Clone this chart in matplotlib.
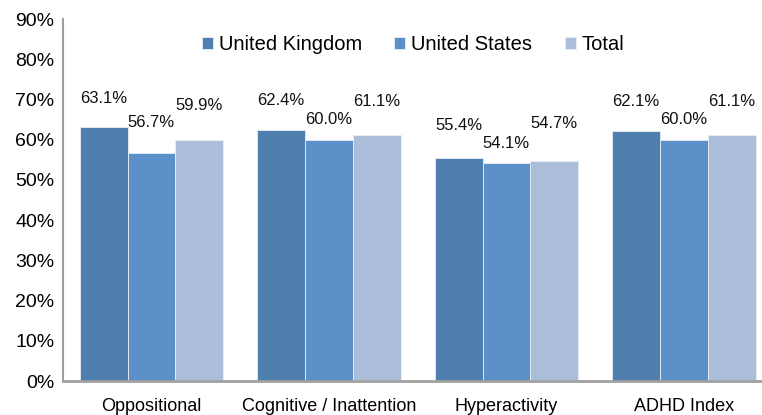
import matplotlib
matplotlib.use("Agg")
import matplotlib.pyplot as plt
import numpy as np
from matplotlib.ticker import FuncFormatter

categories = ["Oppositional", "Cognitive / Inattention", "Hyperactivity", "ADHD Index"]
series_names = ["United Kingdom", "United States", "Total"]
uk = [63.1, 62.4, 55.4, 62.1]
us = [56.7, 60.0, 54.1, 60.0]
total = [59.9, 61.1, 54.7, 61.1]
yticks = [0, 10, 20, 30, 40, 50, 60, 70, 80, 90]

colors = ["#4E7FAE", "#5B91C8", "#AABED9"]
# vertical offsets (pixels) of data labels above bar tops, per series / category
label_offsets_px = [
    [29, 30, 33, 30],
    [30, 20, 20, 20],
    [35, 34, 37, 34],
]

plt.rcParams['font.family'] = ['Liberation Sans', 'DejaVu Sans']

fig = plt.figure(figsize=(7.62, 4.15), dpi=100)
ax = fig.add_axes([62.7 / 762, 34 / 415, 710 / 762, 362 / 415])

x = np.arange(len(categories))
w = 0.269
series = [uk, us, total]
for i, (vals, name, c) in enumerate(zip(series, series_names, colors)):
    pos = x + (i - 1) * w
    ax.bar(pos, vals, width=w, color=c, label=name,
           edgecolor="#E8EEF5", linewidth=0.6)
    for j, (p, v) in enumerate(zip(pos, vals)):
        ax.annotate(f"{v:.1f}%", xy=(p, v),
                    xytext=(0, label_offsets_px[i][j] * 0.72),
                    textcoords="offset points", ha="center", va="center",
                    fontsize=12, color="#111111")

ax.set_xlim(-0.5, 3.5)
ax.set_ylim(0, 90)
ax.set_yticks(yticks)
ax.yaxis.set_major_formatter(FuncFormatter(lambda v, _: f"{v:.0f}%"))
ax.set_xticks(x)
ax.set_xticklabels(categories, fontsize=13)
ax.tick_params(axis="y", length=0, pad=6, labelsize=14)
ax.tick_params(axis="x", length=0, pad=12)

for s in ["top", "right"]:
    ax.spines[s].set_visible(False)
ax.spines["left"].set_color("#A0A0A0")
ax.spines["left"].set_linewidth(1.5)
ax.spines["bottom"].set_color("#A0A0A0")
ax.spines["bottom"].set_linewidth(2)

leg = fig.legend(loc="center", bbox_to_anchor=(413 / 762, 1 - 45 / 415), ncol=3,
                 frameon=False, fontsize=14.5, handlelength=0.55, handleheight=0.55,
                 handletextpad=0.3, columnspacing=1.6)

fig.savefig("out.png", dpi=100)
